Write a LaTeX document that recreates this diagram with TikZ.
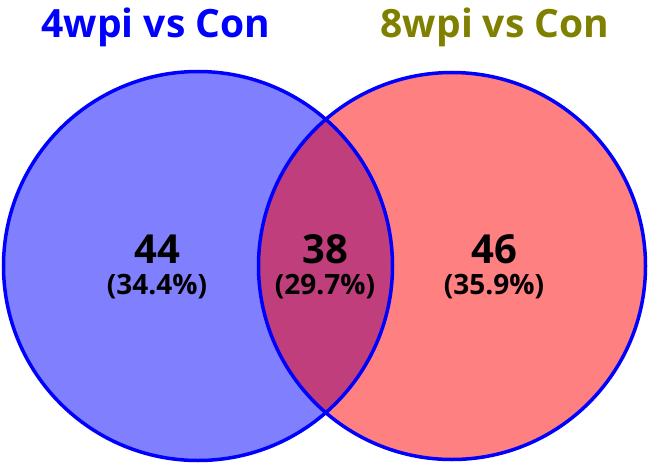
\documentclass[tikz,border=0pt]{standalone}
\usepackage{fontspec}
\setmainfont{Open Sans}
\definecolor{lfill}{RGB}{128,128,255}
\definecolor{rfill}{RGB}{255,128,128}
\definecolor{ofill}{RGB}{192,62,124}
\definecolor{edge}{RGB}{0,0,255}
\definecolor{olivet}{RGB}{128,128,0}
\begin{document}
\begin{tikzpicture}[x=1pt,y=1pt,
  bignum/.style={anchor=base,inner sep=0pt,font=\fontsize{40}{42}\selectfont\bfseries},
  pct/.style={anchor=base,inner sep=0pt,font=\fontsize{28}{30}\selectfont\bfseries},
  title/.style={anchor=base,inner sep=0pt,font=\fontsize{39}{41}\selectfont\bfseries}]
\useasboundingbox (0,0) rectangle (653,467);
\fill[lfill] (198,201) circle (194.5);
\fill[rfill] (452,201) circle (193.5);
\begin{scope}
\clip (198,201) circle (194.5);
\fill[ofill] (452,201) circle (193.5);
\end{scope}
\draw[edge,line width=3.5pt] (198,201) circle (194.5);
\draw[edge,line width=3.5pt] (452,201) circle (193.5);
\node[title,text=edge] (t1) at (156,429) {4wpi vs Con};
\node[title,text=olivet] (t2) at (495,429) {8wpi vs Con};
\node[bignum] (n1) at (157,204) {44};
\node[pct] (p1) at (157,173) {(34.4\%)};
\node[bignum] (n2) at (325,204) {38};
\node[pct] (p2) at (325,173) {(29.7\%)};
\node[bignum] (n3) at (494,204) {46};
\node[pct] (p3) at (494,173) {(35.9\%)};
\end{tikzpicture}
\end{document}
